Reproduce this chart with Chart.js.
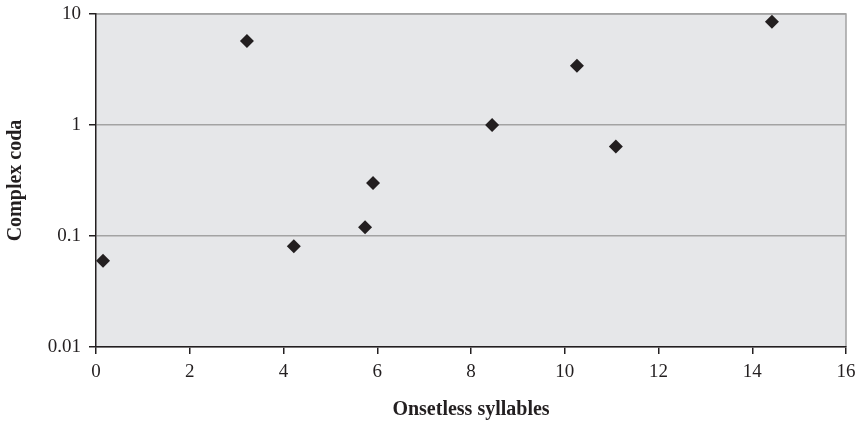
<!DOCTYPE html>
<html>
<head>
<meta charset="utf-8">
<script src="https://cdn.jsdelivr.net/npm/chart.js@4"></script>
<style>
  html, body { margin: 0; padding: 0; background: #fff; }
  #wrap { width: 862px; height: 423px; }
</style>
</head>
<body>
<div id="wrap"><canvas id="chart"></canvas></div>
<script>
// data
const onsetless = [0.15, 3.22, 4.22, 5.74, 5.91, 8.45, 10.26, 11.09, 14.42];
const complexCoda = [0.06, 5.7, 0.081, 0.12, 0.3, 1.0, 3.42, 0.64, 8.5];
const yTicks = [0.01, 0.1, 1, 10];
const yTickLabels = ['0.01', '0.1', '1', '10'];

const ink = '#231f20';
const serif = '"Liberation Serif", "DejaVu Serif", serif';

// grey plot area with grey top/right frame
const plotBg = {
  id: 'plotBg',
  beforeDraw(chart) {
    const { ctx, chartArea: a } = chart;
    ctx.save();
    ctx.fillStyle = '#e6e7e9';
    ctx.fillRect(a.left, a.top, a.right - a.left, a.bottom - a.top);
    ctx.strokeStyle = '#a3a3a3';
    ctx.lineWidth = 1.5;
    ctx.beginPath();
    ctx.moveTo(a.left, a.top);
    ctx.lineTo(a.right, a.top);
    ctx.lineTo(a.right, a.bottom);
    ctx.stroke();
    ctx.restore();
  }
};

new Chart(document.getElementById('chart'), {
  type: 'scatter',
  data: {
    datasets: [{
      data: onsetless.map((x, i) => ({ x: x, y: complexCoda[i] })),
      pointStyle: 'rectRot',
      radius: 7,
      hoverRadius: 7,
      backgroundColor: ink,
      borderColor: ink,
      borderWidth: 0
    }]
  },
  options: {
    responsive: true,
    maintainAspectRatio: false,
    animation: false,
    layout: { padding: { top: 14, right: 16, left: 0, bottom: 0 } },
    plugins: { legend: { display: false }, tooltip: { enabled: false } },
    scales: {
      x: {
        type: 'linear',
        min: 0,
        max: 16,
        afterFit(s) { s.height = 76; s.paddingLeft = 0; s.paddingRight = 0; },
        ticks: { stepSize: 2, color: ink, padding: 7, maxRotation: 0, font: { family: serif, size: 19 } },
        grid: { drawOnChartArea: false, drawTicks: true, tickLength: 7, tickColor: ink, lineWidth: 1.5 },
        border: { color: ink, width: 1.5 },
        title: { display: true, text: 'Onsetless syllables', color: ink, padding: { top: 12, bottom: 1 }, font: { family: serif, size: 20, weight: 'bold' } }
      },
      y: {
        type: 'logarithmic',
        min: 0.01,
        max: 10,
        afterFit(s) { s.width = 96; s.paddingTop = 0; s.paddingBottom = 0; },
        afterBuildTicks(s) { s.ticks = yTicks.map(v => ({ value: v })); },
        ticks: {
          color: ink,
          padding: 8,
          font: { family: serif, size: 19 },
          callback: (v) => yTickLabels[yTicks.indexOf(v)]
        },
        grid: { color: '#a3a3a3', lineWidth: 1.5, drawTicks: true, tickLength: 7, tickColor: ink },
        border: { color: ink, width: 1.5 },
        title: { display: true, text: 'Complex coda', color: ink, padding: { top: 4, bottom: 4 }, font: { family: serif, size: 20, weight: 'bold' } }
      }
    }
  },
  plugins: [plotBg]
});
</script>
</body>
</html>
